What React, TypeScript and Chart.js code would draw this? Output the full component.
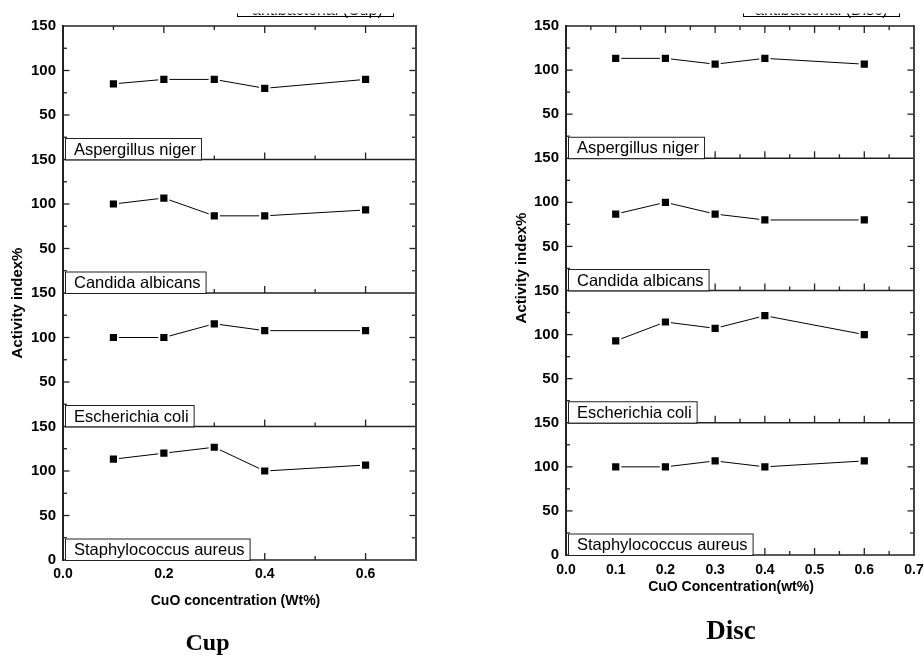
import React, { useEffect, useRef } from "react";
import { Chart, registerables } from "chart.js";

Chart.register(...registerables);

// ---------------- data ----------------
const concentrations = [0.1, 0.2, 0.3, 0.4, 0.6];
const organisms = ["Aspergillus niger", "Candida albicans", "Escherichia coli", "Staphylococcus aureus"];

const cupAspergillus = [85, 90, 90, 80, 90];
const cupCandida = [100, 106.7, 86.7, 86.7, 93.3];
const cupEscherichia = [100, 100, 115.4, 107.7, 107.7];
const cupStaphylococcus = [113.3, 120, 126.7, 100, 106.7];

const discAspergillus = [113.3, 113.3, 106.7, 113.3, 106.7];
const discCandida = [86.7, 100, 86.7, 80, 80];
const discEscherichia = [92.9, 114.3, 107.1, 121.4, 100];
const discStaphylococcus = [100, 100, 106.7, 100, 106.7];

const yTicks = [0, 50, 100, 150];
const yMinorTicks = [25, 75, 125];
const cupXTicks = [0, 0.2, 0.4, 0.6];
const cupXMinorTicks = [0.1, 0.3, 0.5];
const discXTicks = [0, 0.1, 0.2, 0.3, 0.4, 0.5, 0.6, 0.7];
const discXMinorTicks = [0.05, 0.15, 0.25, 0.35, 0.45, 0.55, 0.65];

const yTitle = "Activity index%";
const cupXTitle = "CuO concentration (Wt%)";
const discXTitle = "CuO Concentration(wt%)";
const cupCaption = "Cup";
const discCaption = "Disc";
const cupHeader = "antibacterial (Cup)";
const discHeader = "antibacterial (Disc)";

// ---------------- layout ----------------
const W = 924;
const H = 657;
const Y_W = 50;
const X_H = 30;
const SANS = '"Liberation Sans", Arial, Helvetica, sans-serif';
const SERIF = '"Liberation Serif", "Times New Roman", serif';

type Cfg = {
  values: number[][];
  xTicks: number[];
  xMinor: number[];
  xMax: number;
  left: number;
  right: number;
  top: number;
  bottom: number;
  xPad: number;
  yTitleX: number;
  yTitleY: number;
  xTitle: string;
  xTitleX: number;
  xTitleY: number;
  caption: string;
  captionX: number;
  captionY: number;
  captionSize: number;
  header: string;
  headerX1: number;
  headerX2: number;
  headerTextX: number;
};

const cupCfg: Cfg = {
  values: [cupAspergillus, cupCandida, cupEscherichia, cupStaphylococcus],
  xTicks: cupXTicks,
  xMinor: cupXMinorTicks,
  xMax: 0.7,
  left: 63,
  right: 416,
  top: 26,
  bottom: 560,
  xPad: 6,
  yTitleX: 17.5,
  yTitleY: 303,
  xTitle: cupXTitle,
  xTitleX: 235.5,
  xTitleY: 601,
  caption: cupCaption,
  captionX: 207.5,
  captionY: 650,
  captionSize: 24,
  header: cupHeader,
  headerX1: 237,
  headerX2: 393,
  headerTextX: 252,
};

const discCfg: Cfg = {
  values: [discAspergillus, discCandida, discEscherichia, discStaphylococcus],
  xTicks: discXTicks,
  xMinor: discXMinorTicks,
  xMax: 0.7,
  left: 566,
  right: 914,
  top: 26,
  bottom: 555,
  xPad: 7,
  yTitleX: 522,
  yTitleY: 268,
  xTitle: discXTitle,
  xTitleX: 731,
  xTitleY: 587,
  caption: discCaption,
  captionX: 731,
  captionY: 639,
  captionSize: 27,
  header: discHeader,
  headerX1: 743,
  headerX2: 899,
  headerTextX: 755,
};

function line(ctx: CanvasRenderingContext2D, x1: number, y1: number, x2: number, y2: number) {
  ctx.beginPath();
  ctx.moveTo(x1, y1);
  ctx.lineTo(x2, y2);
  ctx.stroke();
}

function makeDecor(cfg: Cfg) {
  return {
    id: "decor",
    afterDraw(chart: any) {
      const ctx: CanvasRenderingContext2D = chart.ctx;
      const ca = chart.chartArea;
      const xs = chart.scales.x;
      ctx.save();
      ctx.strokeStyle = "#222";
      ctx.lineCap = "butt";

      organisms.forEach((name, i) => {
        const ys = chart.scales["y" + i];
        const top = ys.getPixelForValue(150);
        const bottom = ys.getPixelForValue(0);
        ctx.lineWidth = 1.3;
        // y ticks (inward) on left and right
        yTicks.forEach((v) => {
          if (v === 0 || v === 150) return;
          const py = ys.getPixelForValue(v);
          line(ctx, ca.left, py, ca.left + 6.5, py);
          line(ctx, ca.right, py, ca.right - 6.5, py);
        });
        yMinorTicks.forEach((v) => {
          const py = ys.getPixelForValue(v);
          line(ctx, ca.left, py, ca.left + 4, py);
          line(ctx, ca.right, py, ca.right - 4, py);
        });
        // x ticks at bottom of each panel (pointing up), and top of first panel (pointing down)
        cfg.xTicks.forEach((v) => {
          if (v <= 0 || v >= cfg.xMax) return;
          const px = xs.getPixelForValue(v);
          line(ctx, px, bottom, px, bottom - 7);
          if (i === 0) line(ctx, px, top, px, top + 7);
        });
        cfg.xMinor.forEach((v) => {
          const px = xs.getPixelForValue(v);
          line(ctx, px, bottom, px, bottom - 4);
          if (i === 0) line(ctx, px, top, px, top + 4);
        });
        // horizontal panel borders
        ctx.lineWidth = 1.6;
        line(ctx, ca.left, bottom, ca.right, bottom);
        if (i === 0) line(ctx, ca.left, top, ca.right, top);
      });

      // vertical axes
      ctx.lineWidth = 2;
      ctx.strokeStyle = "#222";
      line(ctx, ca.left, ca.top - 1, ca.left, ca.bottom + 1);
      ctx.strokeStyle = "#444";
      line(ctx, ca.right, ca.top - 1, ca.right, ca.bottom + 1);

      // label boxes
      organisms.forEach((name, i) => {
        const ys = chart.scales["y" + i];
        const bottom = ys.getPixelForValue(0);
        ctx.font = "16.5px " + SANS;
        const w = ctx.measureText(name).width;
        const x0 = ca.left + 2;
        const x1 = ca.left + 11 + w + 5;
        const y0 = bottom - 21.5;
        ctx.fillStyle = "#fff";
        ctx.fillRect(x0, y0, x1 - x0, bottom - y0);
        ctx.lineWidth = 1;
        ctx.strokeStyle = "#222";
        ctx.strokeRect(x0 + 0.5, y0 + 0.5, x1 - x0, bottom - y0);
        ctx.fillStyle = "#000";
        ctx.textAlign = "left";
        ctx.textBaseline = "alphabetic";
        ctx.fillText(name, ca.left + 11, bottom - 5);
      });

      // header box (clipped at the top of the picture)
      ctx.save();
      ctx.beginPath();
      ctx.rect(0, 13.5, W, 20);
      ctx.clip();
      ctx.lineWidth = 1;
      ctx.strokeStyle = "#000";
      ctx.strokeRect(cfg.headerX1 + 0.5, -10, cfg.headerX2 - cfg.headerX1, 26.5);
      ctx.font = "16px " + SANS;
      ctx.fillStyle = "#000";
      ctx.textAlign = "left";
      ctx.textBaseline = "alphabetic";
      ctx.fillText(cfg.header, cfg.headerTextX, 14.5);
      ctx.restore();

      // y title
      ctx.save();
      ctx.translate(cfg.yTitleX, cfg.yTitleY);
      ctx.rotate(-Math.PI / 2);
      ctx.font = "bold 15px " + SANS;
      ctx.fillStyle = "#000";
      ctx.textAlign = "center";
      ctx.textBaseline = "middle";
      ctx.fillText(yTitle, 0, 0);
      ctx.restore();

      // x title
      ctx.font = "bold 14px " + SANS;
      ctx.fillStyle = "#000";
      ctx.textAlign = "center";
      ctx.textBaseline = "middle";
      ctx.fillText(cfg.xTitle, cfg.xTitleX, cfg.xTitleY);

      // caption
      ctx.font = "bold " + cfg.captionSize + "px " + SERIF;
      ctx.textBaseline = "alphabetic";
      ctx.fillText(cfg.caption, cfg.captionX, cfg.captionY);

      ctx.restore();
    },
  };
}

function buildConfig(cfg: Cfg): any {
  const xFont = { family: SANS, size: 14, weight: "bold" as const };
  const yFont = { family: SANS, size: 15, weight: "bold" as const };
  const last = organisms.length - 1;
  const scales: any = {
    x: {
      type: "linear",
      position: "bottom",
      min: 0,
      max: cfg.xMax,
      afterBuildTicks: (s: any) => {
        s.ticks = cfg.xTicks.map((v) => ({ value: v }));
      },
      ticks: {
        callback: (v: any) => Number(v).toFixed(1),
        font: xFont,
        color: "#000",
        padding: cfg.xPad,
        autoSkip: false,
        maxRotation: 0,
      },
      grid: { display: false, drawTicks: false },
      border: { display: false },
      afterFit: (s: any) => {
        s.height = X_H;
        s.paddingLeft = 0;
        s.paddingRight = 0;
      },
    },
  };
  organisms.forEach((name, i) => {
    scales["y" + i] = {
      type: "linear",
      position: "left",
      stack: "panels",
      stackWeight: 1,
      weight: organisms.length - i,
      min: 0,
      max: 150,
      afterBuildTicks: (s: any) => {
        s.ticks = yTicks.map((v) => ({ value: v }));
      },
      ticks: {
        callback: (v: any) => (v === 0 && i < last ? "" : String(v)),
        font: yFont,
        color: "#000",
        padding: 7,
        autoSkip: false,
      },
      grid: { display: false, drawTicks: false },
      border: { display: false },
      afterFit: (s: any) => {
        s.width = Y_W;
        s.paddingTop = 0;
        s.paddingBottom = 0;
      },
    };
  });

  const datasets = organisms.map((name, i) => ({
    label: name,
    data: concentrations.map((x, j) => ({ x, y: cfg.values[i][j] })),
    xAxisID: "x",
    yAxisID: "y" + i,
    borderColor: "#000",
    backgroundColor: "#000",
    borderWidth: 1,
    pointStyle: "rect",
    pointRadius: 6.5,
    pointBorderWidth: 2,
    pointBorderColor: "#fff",
    pointBackgroundColor: "#000",
    fill: false,
    tension: 0,
  }));

  return {
    type: "line",
    data: { datasets },
    options: {
      responsive: false,
      animation: false,
      devicePixelRatio: 1,
      layout: {
        autoPadding: false,
        padding: {
          left: cfg.left - Y_W,
          right: W - cfg.right,
          top: cfg.top,
          bottom: H - cfg.bottom - X_H,
        },
      },
      plugins: {
        legend: { display: false },
        title: { display: false },
        tooltip: { enabled: false },
      },
      scales,
    },
    plugins: [makeDecor(cfg)],
  };
}

function ColumnChart({ cfg }: { cfg: Cfg }) {
  const ref = useRef<HTMLCanvasElement>(null);
  useEffect(() => {
    const chart = new Chart(ref.current as HTMLCanvasElement, buildConfig(cfg));
    return () => chart.destroy();
  }, [cfg]);
  return (
    <canvas
      ref={ref}
      width={W}
      height={H}
      style={{ position: "absolute", left: 0, top: 0, width: W, height: H }}
    />
  );
}

export default function App() {
  return (
    <div
      style={{
        position: "absolute",
        left: 0,
        top: 0,
        width: W,
        height: H,
        background: "#fff",
        overflow: "hidden",
      }}
    >
      <ColumnChart cfg={cupCfg} />
      <ColumnChart cfg={discCfg} />
    </div>
  );
}
